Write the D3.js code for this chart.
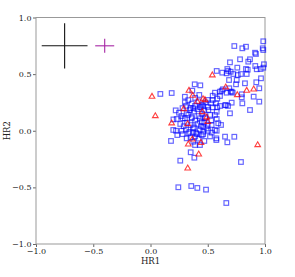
<!DOCTYPE html>
<html>
<head>
<meta charset="utf-8">
<script src="https://cdn.jsdelivr.net/npm/d3@7"></script>
<style>
  body { margin: 0; background: #fff; }
  text { font-family: "DejaVu Serif", serif; }
</style>
</head>
<body>
<svg id="chart"></svg>
<script>
// tick values on both axes
const ticks = [-1, -0.5, 0, 0.5, 1];

// blue squares [HR1, HR2]
const squares = [
  [0.732, 0.748], [0.802, 0.728], [0.834, 0.742], [0.913, 0.689], [0.921, 0.678],
  [0.985, 0.790], [0.980, 0.728], [0.985, 0.713], [0.694, 0.604], [0.782, 0.631],
  [0.854, 0.610], [0.869, 0.631], [0.991, 0.587], [0.915, 0.572], [0.758, 0.557],
  [0.834, 0.545], [0.849, 0.539], [0.928, 0.543], [0.962, 0.545], [0.985, 0.557],
  [0.578, 0.528], [0.627, 0.513], [0.671, 0.545], [0.679, 0.528], [0.700, 0.521],
  [0.665, 0.507], [0.723, 0.501], [0.762, 0.492], [0.790, 0.501], [0.840, 0.501],
  [0.686, 0.448], [0.753, 0.448], [0.965, 0.463], [0.924, 0.428], [0.825, 0.419],
  [0.747, 0.410], [0.386, 0.410], [0.435, 0.401], [0.086, 0.325], [0.185, 0.333],
  [0.365, 0.354], [0.633, 0.366], [0.622, 0.354], [0.688, 0.375], [0.700, 0.345],
  [0.950, 0.375], [0.718, 0.336], [0.797, 0.322], [0.901, 0.301], [0.950, 0.257],
  [0.869, 0.183], [0.694, 0.154], [0.426, 0.316], [0.543, 0.309], [0.607, 0.307],
  [0.583, 0.283], [0.543, 0.272], [0.500, 0.272], [0.528, 0.242], [0.572, 0.242],
  [0.607, 0.219], [0.651, 0.225], [0.677, 0.219], [0.461, 0.219], [0.432, 0.207],
  [0.389, 0.219], [0.249, 0.159], [0.316, 0.154], [0.345, 0.183], [0.374, 0.198],
  [0.505, 0.183], [0.543, 0.207], [0.578, 0.168], [0.583, 0.207], [0.563, 0.139],
  [0.578, 0.104], [0.616, 0.051], [0.575, -0.067], [0.732, -0.053],
  [0.223, 0.000], [0.272, 0.000], [0.330, -0.023], [0.374, -0.017], [0.403, -0.029],
  [0.447, -0.038], [0.461, -0.008], [0.505, 0.000], [0.534, -0.017], [0.578, 0.000],
  [0.179, -0.090], [0.234, -0.038], [0.316, -0.067], [0.374, -0.097], [0.389, -0.126],
  [0.432, -0.126], [0.575, -0.082], [0.671, -0.102], [0.351, -0.190], [0.383, -0.238],
  [0.260, -0.264], [0.790, -0.276], [0.243, -0.499], [0.356, -0.488], [0.409, -0.505],
  [0.485, -0.520], [0.662, -0.638],
  [0.563, 0.336], [0.607, 0.345], [0.665, 0.336], [0.709, 0.345], [0.797, 0.295],
  [0.659, 0.227], [0.709, 0.248], [0.802, 0.242], [0.432, 0.110], [0.447, 0.080],
  [0.461, 0.036], [0.592, 0.066], [0.534, 0.051], [0.563, 0.007], [0.651, -0.052],
  [0.229, 0.104], [0.199, 0.007],
  [0.30, 0.25], [0.33, 0.27], [0.36, 0.24], [0.39, 0.29], [0.42, 0.26], [0.45, 0.23],
  [0.48, 0.25], [0.28, 0.20], [0.31, 0.22], [0.35, 0.20], [0.38, 0.17], [0.41, 0.19],
  [0.44, 0.21], [0.47, 0.18], [0.50, 0.21], [0.27, 0.13], [0.30, 0.11], [0.33, 0.14],
  [0.36, 0.12], [0.39, 0.09], [0.42, 0.13], [0.45, 0.15], [0.48, 0.12], [0.52, 0.14],
  [0.26, 0.06], [0.29, 0.04], [0.32, 0.07], [0.35, 0.05], [0.38, 0.03], [0.41, 0.06],
  [0.44, 0.04], [0.47, 0.07], [0.50, 0.05], [0.53, 0.09], [0.28, -0.03], [0.31, 0.01],
  [0.34, -0.01], [0.37, 0.02], [0.40, -0.02], [0.43, 0.01], [0.46, -0.03], [0.49, 0.02],
  [0.52, -0.05], [0.35, -0.06], [0.39, -0.05], [0.42, -0.07], [0.47, -0.09], [0.30, 0.30],
  [0.22, 0.18], [0.20, 0.10], [0.281, 0.110], [0.360, 0.110], [0.476, 0.110]
];

// red triangles [HR1, HR2]
const triangles = [
  [0.540, 0.490], [0.013, 0.301], [0.336, 0.354], [0.657, 0.384], [0.840, 0.354],
  [0.901, 0.366], [0.758, 0.316], [0.369, 0.310], [0.459, 0.280], [0.476, 0.272],
  [0.409, 0.257], [0.290, 0.192], [0.452, 0.166], [0.042, 0.130], [0.185, 0.066],
  [0.325, 0.060], [0.491, 0.119], [0.500, 0.080], [0.330, -0.120], [0.365, -0.076],
  [0.441, -0.106], [0.936, -0.126], [0.421, -0.208], [0.325, -0.332]
];

// error crosses: centre and half-lengths [x, y, dx, dy]
const crossBlack = [-0.75, 0.75, 0.2, 0.2];
const crossPurple = [-0.4, 0.75, 0.083, 0.062];

let w = 295;
let h = 277;

let svg = d3.select('#chart')
    .attr('width', w)
    .attr('height', h);

let xScale = d3.scaleLinear()
    .domain([-1, 1])
    .range([36, 265]);

let yScale = d3.scaleLinear()
    .domain([-1, 1])
    .range([244, 17.5]);

let fmt = (d) => d3.format('.1f')(d).replace('-', '\u2212');

let xAxis = d3.axisBottom(xScale)
    .tickValues(ticks)
    .tickSize(3)
    .tickPadding(1.5)
    .tickFormat(fmt);

let yAxis = d3.axisLeft(yScale)
    .tickValues(ticks)
    .tickSize(3)
    .tickPadding(1.5)
    .tickFormat(fmt);

let gx = svg.append('g')
    .attr('transform', `translate(0, ${yScale(-1)})`)
    .call(xAxis);

let gy = svg.append('g')
    .attr('transform', `translate(${xScale(-1)}, 0)`)
    .call(yAxis);

[gx, gy].forEach((g) => {
    g.select('.domain').remove();
    g.selectAll('line').attr('stroke', '#666');
    g.selectAll('text')
      .attr('font-family', 'DejaVu Serif')
      .attr('font-size', '8px')
      .attr('fill', '#222');
});

// plot frame
svg.append('rect')
    .attr('x', xScale(-1))
    .attr('y', yScale(1))
    .attr('width', xScale(1) - xScale(-1))
    .attr('height', yScale(-1) - yScale(1))
    .attr('fill', 'none')
    .attr('stroke', '#999')
    .attr('stroke-width', 1);

// axis labels
svg.append('text')
    .attr('x', (xScale(-1) + xScale(1)) / 2)
    .attr('y', 264)
    .attr('text-anchor', 'middle')
    .attr('font-size', '8.5px')
    .attr('fill', '#222')
    .text('HR1');

svg.append('text')
    .attr('transform', `translate(10, ${(yScale(-1) + yScale(1)) / 2}) rotate(-90)`)
    .attr('text-anchor', 'middle')
    .attr('font-size', '8.5px')
    .attr('fill', '#222')
    .text('HR2');

// crosses
function drawCross(c, color) {
    svg.append('line')
      .attr('x1', xScale(c[0] - c[2])).attr('x2', xScale(c[0] + c[2]))
      .attr('y1', yScale(c[1])).attr('y2', yScale(c[1]))
      .attr('stroke', color).attr('stroke-width', 1.1);
    svg.append('line')
      .attr('x1', xScale(c[0])).attr('x2', xScale(c[0]))
      .attr('y1', yScale(c[1] - c[3])).attr('y2', yScale(c[1] + c[3]))
      .attr('stroke', color).attr('stroke-width', 1.1);
}
drawCross(crossBlack, '#111');
drawCross(crossPurple, '#a626a4');

// squares
let s = 4.6;
svg.append('g').selectAll('rect')
    .data(squares)
    .enter()
    .append('rect')
    .attr('x', (d) => xScale(d[0]) - s / 2)
    .attr('y', (d) => yScale(d[1]) - s / 2)
    .attr('width', s)
    .attr('height', s)
    .attr('fill', 'none')
    .attr('stroke', 'blue')
    .attr('stroke-opacity', 0.6)
    .attr('stroke-width', 1.2);

// triangles
let tri = d3.symbol().type(d3.symbolTriangle).size(14);
svg.append('g').selectAll('path')
    .data(triangles)
    .enter()
    .append('path')
    .attr('d', tri)
    .attr('transform', (d) => `translate(${xScale(d[0])}, ${yScale(d[1])})`)
    .attr('fill', 'none')
    .attr('stroke', 'red')
    .attr('stroke-opacity', 0.75)
    .attr('stroke-width', 1.1);
</script>
</body>
</html>
